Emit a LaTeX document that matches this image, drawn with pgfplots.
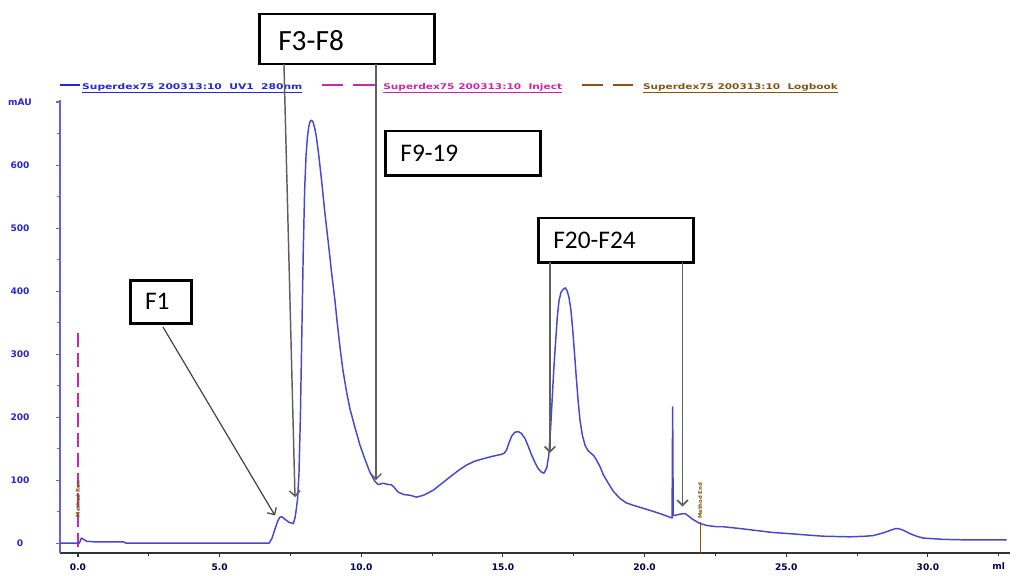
\documentclass[border=0pt]{standalone}
\usepackage{pgfplots}
\pgfplotsset{compat=1.18}
\usepackage{fontspec}
\setmainfont{Carlito}
\newfontfamily\pixfont{DejaVu Sans}
\usetikzlibrary{arrows.meta}
\definecolor{curveblue}{RGB}{72,72,205}
\definecolor{legblue}{RGB}{40,40,200}
\definecolor{injmag}{RGB}{200,40,170}
\definecolor{logbrown}{RGB}{130,85,20}
\definecolor{axblue}{RGB}{100,100,210}
\definecolor{arrgray}{RGB}{95,95,95}

\pgfplotstableread{
x y
-0.63 0
0.0 0
0.05 0
0.12 8
0.2 6
0.3 3
0.6 2
1.0 2
1.6 2
1.7 0
6.0 0
6.75 0
6.85 8
6.95 22
7.05 35
7.12 41
7.19 42
7.3 38
7.45 33
7.6 31
7.66 40
7.7 52
7.75 70
7.8 110
7.85 200
7.9 330
7.95 460
8.0 560
8.05 615
8.1 645
8.15 662
8.2 670
8.25 671
8.3 668
8.36 658
8.42 643
8.5 615
8.6 575
8.7 530
8.84 475
8.95 430
9.07 385
9.15 350
9.25 310
9.35 275
9.48 240
9.6 213
9.78 183
9.95 156
10.13 133
10.3 113
10.48 98
10.6 93
10.78 95
10.95 93
11.05 93
11.13 90
11.3 81
11.5 77
11.72 76
11.95 73
12.2 76
12.54 84
12.85 95
13.13 105
13.45 116
13.72 124
14.0 130
14.31 134
14.65 138
14.96 141
15.05 143
15.13 148
15.22 160
15.31 170
15.42 176
15.54 177
15.65 174
15.78 166
15.9 153
16.01 140
16.13 128
16.25 118
16.35 113
16.45 111
16.55 120
16.62 140
16.68 180
16.74 230
16.8 280
16.86 320
16.92 360
16.98 385
17.05 398
17.13 403
17.2 405
17.27 400
17.33 390
17.4 370
17.46 340
17.52 305
17.58 268
17.65 228
17.72 195
17.8 172
17.9 155
18.0 147
18.1 143
18.2 139
18.3 132
18.43 121
18.55 108
18.72 95
18.9 82
19.13 71
19.35 64
19.6 60
19.9 56
20.19 52
20.6 46
20.84 42
20.97 40
20.99 216
21.01 44
21.07 44
21.25 46
21.43 47
21.55 43
21.66 39
21.8 35
21.96 31
22.2 28
22.54 26
22.78 26
23.4 23
23.95 20
24.5 17
25.13 15
25.7 13
26.3 11
27.25 10
27.8 11
28.07 12
28.4 16
28.66 20
28.85 23
28.96 23
29.1 21
29.2 19
29.37 15
29.6 11
29.84 8
30.2 7
30.54 6
31.5 5
32.78 5
}\chrom

\begin{document}
\begin{tikzpicture}
\begin{axis}[
 scale only axis, width=712.5pt, height=339.75pt,
 xmin=-0.635, xmax=32.9, ymin=-15.9, ymax=703,
 axis x line*=bottom, axis y line*=left,
 axis line style={-},
 x axis line style={draw=black!80, line width=1.2pt},
 y axis line style={draw=axblue, line width=1.2pt},
 xtick={0,5,...,30}, xticklabels={0.0,5.0,10.0,15.0,20.0,25.0,30.0},
 extra x ticks={32.5}, extra x tick labels={ml},
 extra x tick style={major tick length=2pt},
 minor x tick num=1,
 ytick={0,100,...,700}, yticklabels={0,100,200,300,400,500,600,mAU},
 minor y tick num=1,
 tick align=outside,
 major tick length=3pt, minor tick length=2pt,
 x tick style={black!80, line width=0.8pt},
 y tick style={axblue, line width=0.8pt},
 ticklabel style={font=\pixfont\bfseries\fontsize{6.8}{7}\selectfont},
 xticklabel style={anchor=center, yshift=-7.5pt, text=black!70!blue},
 yticklabel style={anchor=center, xshift=-27pt, text=legblue},
 clip=false,
]
% bounding box with the reference proportions
\path (axis cs:-2.753,-39.7) rectangle (axis cs:33.11,861.9);

% injection mark
\addplot[injmag, line width=1.4pt, dash pattern=on 10pt off 5pt] coordinates {(0,333) (0,-15.9)};
% logbook marks
\addplot[logbrown, line width=0.8pt] coordinates {(21.96,33) (21.96,-15.9)};
\node[rotate=90, text=logbrown, font=\pixfont\bfseries\fontsize{4}{4}\selectfont, inner sep=0.5pt] at (axis cs:0,70) {Method Run};
\node[rotate=90, text=logbrown, font=\pixfont\bfseries\fontsize{4}{4}\selectfont, inner sep=0.5pt] at (axis cs:21.96,67) {Method End};

% chromatogram
\addplot[curveblue, line width=1.1pt, line join=round] table[x=x, y=y] {\chrom};

% legend
\draw[legblue, line width=0.8pt] (axis cs:-0.63,727) -- (axis cs:0.07,727);
\node[anchor=base west, text=legblue, inner sep=0] at (axis cs:0.14,720.6)
 {\underline{\resizebox{165pt}{4.5pt}{\pixfont\bfseries Superdex75 200313:10\ \ UV1\ \ 280nm}}};
\draw[injmag, line width=0.8pt, dash pattern=on 16pt off 7.5pt] (axis cs:8.61,727) -- (axis cs:10.48,727);
\node[anchor=base west, text=injmag, inner sep=0] at (axis cs:10.77,720.6)
 {\underline{\resizebox{134pt}{4.5pt}{\pixfont\bfseries Superdex75 200313:10\ \ Inject}}};
\draw[logbrown, line width=0.8pt, dash pattern=on 16pt off 7.5pt] (axis cs:17.79,727) -- (axis cs:19.59,727);
\node[anchor=base west, text=logbrown, inner sep=0] at (axis cs:19.94,720.6)
 {\underline{\resizebox{146pt}{4.5pt}{\pixfont\bfseries Superdex75 200313:10\ \ Logbook}}};

% annotation boxes
\draw[black, line width=2.2pt, fill=white] (axis cs:6.42,760.3) rectangle (axis cs:12.57,839.7);
\node[anchor=west, inner sep=0, font=\fontsize{22}{24}\selectfont] at (axis cs:7.06,798) {F3-F8};
\draw[black, line width=2.2pt, fill=white] (axis cs:10.84,584) rectangle (axis cs:16.31,654);
\node[anchor=west, inner sep=0, font=\fontsize{19}{22}\selectfont] at (axis cs:11.37,619) {F9-19};
\draw[black, line width=2.2pt, fill=white] (axis cs:16.24,446) rectangle (axis cs:21.71,516);
\node[anchor=west, inner sep=0, font=\fontsize{19}{22}\selectfont] at (axis cs:16.77,481) {F20-F24};
\draw[black, line width=2.2pt, fill=white] (axis cs:1.84,349) rectangle (axis cs:4.02,417);
\node[anchor=west, inner sep=0, font=\fontsize{19}{22}\selectfont] at (axis cs:2.36,383) {F1};

% arrows
\draw[arrgray!70!black, line width=0.9pt, -{Straight Barb[length=4pt,width=8pt]}] (axis cs:3.0,343) -- (axis cs:6.95,44);
\draw[arrgray, line width=1.1pt, -{Straight Barb[length=4pt,width=8pt]}] (axis cs:7.27,760) -- (axis cs:7.66,73);
\draw[arrgray, line width=1.1pt, -{Straight Barb[length=4pt,width=8pt]}] (axis cs:10.52,760) -- (axis cs:10.52,100);
\draw[arrgray, line width=1.3pt, -{Straight Barb[length=4pt,width=8pt]}] (axis cs:16.66,446) -- (axis cs:16.66,143);
\draw[arrgray, line width=1.3pt, -{Straight Barb[length=4pt,width=8pt]}] (axis cs:21.34,446) -- (axis cs:21.34,58);
\end{axis}
\end{tikzpicture}
\end{document}
